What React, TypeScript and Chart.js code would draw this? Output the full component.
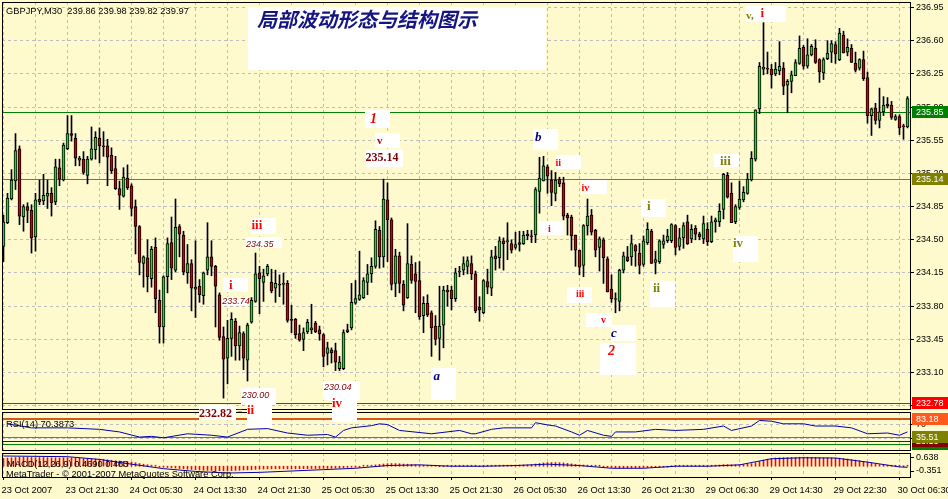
import React, { useEffect, useRef } from "react";
import { Chart, registerables } from "chart.js";
Chart.register(...registerables);

// ---------- price data (GBPJPY M30), one entry per bar ----------
const OPEN = [
  234.43, 234.68, 234.93, 235.12, 235.46, 234.74, 234.85, 234.81, 234.53, 234.93,
  234.91, 234.96, 234.99, 234.90, 235.26, 235.13, 235.46, 235.62, 235.57, 235.34,
  235.35, 235.18, 235.35, 235.45, 235.57, 235.49, 235.49, 235.39, 235.25, 235.04,
  234.96, 235.15, 235.07, 234.85, 234.64, 234.25, 234.31, 234.09, 234.42, 233.86,
  233.58, 234.11, 234.47, 234.18, 234.64, 234.55, 234.15, 234.25, 233.98, 234.01,
  233.91, 234.18, 234.32, 234.22, 233.92, 233.48, 233.25, 233.46, 233.64, 233.38,
  233.51, 233.23, 233.63, 233.85, 234.15, 234.05, 234.14, 234.05, 233.99, 234.03,
  234.03, 234.04, 233.66, 233.66, 233.51, 233.45, 233.53, 233.55, 233.62, 233.55,
  233.50, 233.30, 233.34, 233.33, 233.14, 233.14, 233.53, 233.57, 233.83, 233.87,
  233.89, 234.05, 234.14, 234.22, 234.60, 234.32, 234.92, 234.71, 234.04, 234.33,
  234.03, 233.89, 234.24, 234.14, 234.07, 233.70, 233.83, 233.73, 233.59, 233.46,
  233.60, 233.95, 233.97, 233.88, 234.16, 234.18, 234.22, 234.25, 234.14, 233.79,
  233.73, 234.06, 233.99, 234.33, 234.31, 234.49, 234.48, 234.46, 234.42, 234.47,
  234.46, 234.56, 234.54, 234.55, 235.01, 235.12, 235.27, 235.13, 234.99, 235.14,
  235.10, 234.76, 234.74, 234.55, 234.39, 234.23, 234.65, 234.76, 234.60, 234.42,
  234.50, 234.30, 233.98, 233.87, 233.85, 234.18, 234.32, 234.32, 234.44, 234.36,
  234.24, 234.47, 234.59, 234.26, 234.27, 234.45, 234.49, 234.49, 234.65, 234.43,
  234.52, 234.69, 234.51, 234.62, 234.56, 234.51, 234.61, 234.48, 234.69, 234.69,
  234.82, 235.18, 234.99, 234.69, 234.84, 234.92, 234.99, 235.13, 235.35, 235.88,
  236.30, 236.31, 236.30, 236.25, 236.28, 236.31, 236.13, 236.17, 236.23, 236.36,
  236.53, 236.33, 236.45, 236.52, 236.40, 236.26, 236.41, 236.48, 236.56, 236.40,
  236.66, 236.48, 236.52, 236.36, 236.31, 236.40, 236.21, 235.81, 235.89, 235.76,
  235.85, 235.93, 235.92, 235.77, 235.80, 235.70, 235.69,
];
const HIGH = [
  234.76, 234.99, 235.24, 235.62, 235.49, 234.87, 234.89, 234.87, 234.99, 235.13,
  235.19, 235.13, 235.05, 235.35, 235.35, 235.52, 235.81, 235.81, 235.62, 235.38,
  235.43, 235.38, 235.69, 235.64, 235.68, 235.64, 235.56, 235.47, 235.38, 235.12,
  235.26, 235.29, 235.09, 234.92, 234.65, 234.33, 234.50, 234.43, 234.52, 233.97,
  234.12, 234.52, 234.74, 234.93, 234.66, 234.59, 234.45, 234.29, 234.49, 234.08,
  234.16, 234.68, 234.49, 234.23, 233.94, 233.58, 233.65, 233.73, 233.67, 233.59,
  233.53, 233.62, 233.89, 234.36, 234.22, 234.19, 234.24, 234.19, 234.18, 234.13,
  234.15, 234.07, 233.81, 233.67, 233.60, 233.57, 233.66, 233.82, 233.64, 233.59,
  233.51, 233.42, 233.36, 233.41, 233.27, 233.55, 233.61, 234.04, 234.07, 234.38,
  234.10, 234.24, 234.31, 234.70, 234.64, 235.14, 235.10, 234.73, 234.40, 234.37,
  234.07, 234.67, 234.33, 234.26, 234.27, 233.90, 233.92, 233.75, 233.70, 234.01,
  234.01, 234.02, 234.01, 234.20, 234.22, 234.32, 234.32, 234.33, 234.17, 233.90,
  234.08, 234.19, 234.39, 234.43, 234.53, 234.52, 234.68, 234.50, 234.58, 234.59,
  234.59, 234.60, 234.60, 235.05, 235.37, 235.38, 235.29, 235.23, 235.21, 235.16,
  235.16, 234.78, 234.76, 234.55, 234.39, 234.66, 234.93, 234.82, 234.61, 234.53,
  234.52, 234.32, 234.13, 233.94, 234.19, 234.37, 234.43, 234.55, 234.45, 234.46,
  234.54, 234.68, 234.61, 234.38, 234.50, 234.55, 234.61, 234.67, 234.66, 234.62,
  234.68, 234.76, 234.66, 234.65, 234.58, 234.75, 234.68, 234.75, 234.73, 234.88,
  235.20, 235.21, 235.10, 234.87, 235.12, 235.06, 235.20, 235.43, 235.87, 236.37,
  236.79, 236.48, 236.35, 236.37, 236.59, 236.37, 236.19, 236.28, 236.40, 236.65,
  236.55, 236.62, 236.56, 236.61, 236.41, 236.42, 236.60, 236.60, 236.59, 236.73,
  236.70, 236.62, 236.56, 236.48, 236.41, 236.49, 236.27, 235.89, 235.94, 236.10,
  236.01, 236.00, 235.96, 235.82, 235.82, 235.72, 236.01,
];
const LOW = [
  234.27, 234.67, 234.92, 235.03, 234.66, 234.59, 234.68, 234.36, 234.38, 234.87,
  234.87, 234.83, 234.75, 234.87, 235.07, 235.12, 235.45, 235.54, 235.28, 235.28,
  235.19, 235.09, 235.34, 235.35, 235.31, 235.38, 235.07, 235.20, 235.03, 234.82,
  234.95, 235.03, 234.75, 234.35, 234.13, 234.00, 233.95, 234.00, 233.73, 233.41,
  233.41, 233.94, 234.08, 234.16, 234.32, 234.13, 234.04, 233.75, 233.68, 233.84,
  233.82, 234.13, 234.12, 233.58, 233.44, 232.83, 232.98, 233.27, 233.23, 233.23,
  233.13, 233.01, 233.62, 233.84, 233.72, 233.85, 234.12, 233.94, 233.84, 233.90,
  233.82, 233.63, 233.52, 233.46, 233.43, 233.33, 233.51, 233.51, 233.52, 233.44,
  233.16, 233.18, 233.20, 233.12, 233.12, 233.13, 233.52, 233.55, 233.82, 233.86,
  233.88, 233.92, 234.05, 234.20, 234.20, 234.21, 234.27, 233.97, 233.90, 233.94,
  233.75, 233.88, 234.04, 233.73, 233.66, 233.52, 233.69, 233.27, 233.39, 233.23,
  233.36, 233.80, 233.76, 233.85, 234.11, 234.13, 234.14, 234.08, 233.73, 233.64,
  233.72, 233.93, 233.91, 234.18, 234.20, 234.18, 234.29, 234.36, 234.40, 234.38,
  234.45, 234.50, 234.47, 234.47, 234.78, 235.12, 234.99, 234.86, 234.91, 235.06,
  234.71, 234.55, 234.39, 234.22, 234.13, 234.11, 234.55, 234.55, 234.32, 234.17,
  234.04, 233.95, 233.84, 233.73, 233.75, 234.15, 234.27, 234.23, 234.22, 234.14,
  234.22, 234.45, 234.25, 234.14, 234.25, 234.41, 234.47, 234.47, 234.34, 234.39,
  234.41, 234.45, 234.47, 234.50, 234.50, 234.46, 234.44, 234.47, 234.58, 234.64,
  234.72, 234.94, 234.68, 234.67, 234.82, 234.90, 234.98, 235.12, 235.33, 235.83,
  236.24, 236.25, 236.10, 236.23, 236.24, 236.03, 235.84, 236.05, 236.23, 236.35,
  236.30, 236.31, 236.44, 236.36, 236.16, 236.19, 236.40, 236.37, 236.36, 236.39,
  236.47, 236.44, 236.37, 236.27, 236.29, 236.18, 235.73, 235.60, 235.72, 235.68,
  235.81, 235.89, 235.77, 235.76, 235.61, 235.56, 235.68,
];
const CLOSE = [
  234.69, 234.94, 235.13, 235.44, 234.75, 234.85, 234.81, 234.52, 234.92, 234.90,
  234.97, 234.99, 234.89, 235.27, 235.14, 235.50, 235.62, 235.60, 235.36, 235.36,
  235.21, 235.35, 235.46, 235.58, 235.49, 235.48, 235.37, 235.23, 235.04, 234.97,
  235.16, 235.05, 234.83, 234.64, 234.26, 234.32, 234.11, 234.40, 233.88, 233.58,
  234.11, 234.46, 234.20, 234.63, 234.56, 234.16, 234.25, 233.99, 234.00, 233.92,
  234.15, 234.32, 234.22, 234.01, 233.47, 233.24, 233.46, 233.66, 233.38, 233.52,
  233.25, 233.60, 233.86, 234.14, 234.09, 234.12, 234.22, 233.96, 234.04, 234.02,
  234.04, 233.65, 233.65, 233.50, 233.44, 233.52, 233.63, 233.57, 233.53, 233.51,
  233.27, 233.36, 233.31, 233.21, 233.21, 233.52, 233.55, 233.84, 233.88, 233.92,
  234.07, 234.14, 234.22, 234.61, 234.32, 234.93, 234.71, 234.03, 234.33, 234.04,
  233.81, 234.25, 234.07, 234.06, 233.69, 233.83, 233.71, 233.57, 233.45, 233.59,
  233.97, 233.97, 233.88, 234.15, 234.17, 234.25, 234.28, 234.14, 233.75, 233.76,
  234.07, 234.00, 234.32, 234.30, 234.49, 234.46, 234.48, 234.39, 234.45, 234.45,
  234.55, 234.54, 234.53, 235.03, 235.15, 235.28, 235.17, 235.00, 235.13, 235.09,
  234.75, 234.73, 234.54, 234.39, 234.21, 234.65, 234.75, 234.58, 234.39, 234.51,
  234.31, 233.95, 233.88, 233.87, 234.18, 234.33, 234.28, 234.46, 234.38, 234.23,
  234.49, 234.61, 234.25, 234.29, 234.49, 234.49, 234.54, 234.66, 234.42, 234.52,
  234.65, 234.46, 234.61, 234.56, 234.53, 234.67, 234.48, 234.69, 234.71, 234.80,
  235.19, 234.95, 234.68, 234.85, 234.93, 235.00, 235.14, 235.36, 235.87, 236.33,
  236.32, 236.30, 236.24, 236.30, 236.33, 236.12, 236.17, 236.24, 236.37, 236.52,
  236.33, 236.45, 236.54, 236.37, 236.27, 236.40, 236.47, 236.57, 236.46, 236.68,
  236.47, 236.53, 236.37, 236.29, 236.40, 236.20, 235.81, 235.88, 235.76, 235.85,
  235.92, 235.91, 235.79, 235.80, 235.68, 235.69, 235.99,
];

// ---------- axes ----------
const PRICE_TICKS = [232.75, 233.1, 233.45, 233.8, 234.15, 234.5, 234.85, 235.2, 235.55, 235.9, 236.25, 236.6, 236.95];
const GRID_BARS = [0, 8, 16, 24, 32, 40, 48, 56, 64, 72, 80, 88, 96, 104, 112, 120, 128, 136, 144, 152, 160, 168, 176, 184, 192, 200, 208, 216, 224];
const TIME_LABELS = [
  "23 Oct 2007", "23 Oct 21:30", "24 Oct 05:30", "24 Oct 13:30", "24 Oct 21:30",
  "25 Oct 05:30", "25 Oct 13:30", "25 Oct 21:30", "26 Oct 05:30", "26 Oct 13:30",
  "26 Oct 21:30", "29 Oct 06:30", "29 Oct 14:30", "29 Oct 22:30", "30 Oct 06:30",
];
const PRICE_LINES = [235.85, 235.14, 232.78];

// ---------- RSI(14) ----------
const RSI_BARS = [1, 7, 16, 24, 29, 34, 37, 40, 46, 52, 56, 61, 66, 71, 76, 81, 83, 85, 87, 92, 94, 96, 99, 107, 114, 117, 118, 122, 125, 132, 133, 136, 138, 142, 144, 146, 150, 152, 153, 158, 163, 168, 175, 180, 182, 187, 189, 192, 195, 200, 203, 208, 212, 216, 221, 224, 226];
const RSI_VALUES = [71, 60, 60, 56, 49, 35, 37, 33, 44, 40, 35, 56, 58, 46, 40, 42, 35, 53, 60, 66, 71, 69, 53, 44, 53, 44, 44, 56, 60, 60, 74, 68, 65, 49, 40, 53, 40, 37, 49, 49, 56, 53, 56, 65, 53, 65, 80, 78, 71, 71, 65, 65, 60, 44, 46, 40, 49];
const RSI_LEVELS = [83.18, 35.51, 23.13, 17.0];
const RSI_TICKS = [30, 70];

// ---------- MACD(12,26,9): main (histogram, one per bar) and signal ----------
const MACD_MAIN = [
  0.58, 0.60, 0.62, 0.64, 0.66, 0.66, 0.65, 0.64, 0.63, 0.64,
  0.64, 0.63, 0.62, 0.62, 0.61, 0.62, 0.63, 0.62, 0.60, 0.58,
  0.56, 0.55, 0.54, 0.53, 0.52, 0.50, 0.47, 0.44, 0.41, 0.38,
  0.36, 0.33, 0.30, 0.26, 0.20, 0.15, 0.11, 0.08, 0.03, -0.02,
  -0.06, -0.09, -0.12, -0.14, -0.17, -0.19, -0.22, -0.24, -0.26, -0.28,
  -0.30, -0.31, -0.32, -0.33, -0.33, -0.34, -0.33, -0.32, -0.31, -0.30,
  -0.28, -0.27, -0.25, -0.23, -0.22, -0.21, -0.20, -0.20, -0.19, -0.19,
  -0.19, -0.20, -0.20, -0.19, -0.19, -0.18, -0.18, -0.17, -0.17, -0.16,
  -0.16, -0.16, -0.15, -0.14, -0.13, -0.11, -0.09, -0.07, -0.05, -0.02,
  0.01, 0.04, 0.07, 0.10, 0.13, 0.16, 0.19, 0.20, 0.19, 0.18,
  0.16, 0.15, 0.13, 0.11, 0.09, 0.07, 0.05, 0.03, 0.01, 0.00,
  0.00, 0.01, 0.01, 0.02, 0.01, 0.01, 0.01, 0.02, 0.01, 0.00,
  0.02, 0.03, 0.05, 0.06, 0.08, 0.08, 0.08, 0.08, 0.09, 0.09,
  0.10, 0.10, 0.12, 0.16, 0.20, 0.24, 0.26, 0.27, 0.27, 0.26,
  0.24, 0.21, 0.17, 0.13, 0.10, 0.09, 0.08, 0.07, 0.05, 0.02,
  -0.02, -0.06, -0.10, -0.13, -0.14, -0.14, -0.13, -0.12, -0.12, -0.11,
  -0.10, -0.09, -0.08, -0.06, -0.04, -0.02, -0.01, 0.00, 0.01, 0.01,
  0.02, 0.02, 0.02, 0.03, 0.03, 0.04, 0.05, 0.06, 0.08, 0.09,
  0.12, 0.12, 0.11, 0.11, 0.12, 0.13, 0.15, 0.19, 0.26, 0.36,
  0.45, 0.52, 0.57, 0.60, 0.62, 0.63, 0.64, 0.64, 0.65, 0.66,
  0.66, 0.66, 0.65, 0.65, 0.63, 0.62, 0.62, 0.61, 0.60, 0.59,
  0.56, 0.53, 0.49, 0.45, 0.41, 0.36, 0.30, 0.23, 0.17, 0.12,
  0.09, 0.07, 0.05, 0.03, 0.01, 0.00, 0.01,
];
const SIGNAL_BARS = [0, 16, 24, 32, 40, 48, 56, 64, 72, 80, 88, 96, 104, 112, 120, 128, 136, 144, 152, 160, 168, 176, 184, 192, 200, 208, 216, 224, 226];
const MACD_SIGNAL = [0.75, 0.7, 0.5, 0.15, -0.18, -0.38, -0.5, -0.45, -0.35, -0.25, -0.15, 0.05, 0.1, 0.0, 0.0, 0.05, 0.15, 0.05, -0.15, -0.15, 0.0, 0.0, 0.1, 0.55, 0.62, 0.6, 0.3, -0.05, -0.08];
const MACD_TICKS = [0.638, -0.351];

// ---------- look ----------
const BG = "#FFFACD";
const GRID_COLOR = "#BEBEBE";
const UP = "#2BD12B";
const DOWN = "#D40000";
const SANS = '"Liberation Sans", Arial, sans-serif';
const SERIF = '"Liberation Serif", "Times New Roman", serif';
const CJK = '"Noto Sans CJK SC", "Noto Sans CJK JP", sans-serif';
const DASH = [3, 3];
const AXIS_W = 38;
const XMIN = -0.375;
const XMAX = 226.625;
const RSI_TOP = 410;
const MACD_TOP = 451;

const WHITE_BOXES = [
  [248, 7, 298, 63],
  [365, 110, 25, 18], [375, 133, 25, 15], [366, 150, 37, 17],
  [533, 129, 25, 21], [556, 155, 25, 14], [581, 180, 26, 14], [539, 221, 25, 14],
  [567, 287, 25, 16], [586, 313, 26, 14], [611, 325, 25, 16], [600, 343, 36, 32],
  [431, 368, 25, 32], [323, 381, 37, 19], [332, 395, 25, 27], [199, 405, 37, 15],
  [241, 388, 35, 17], [247, 405, 25, 23], [223, 278, 25, 14], [222, 297, 26, 8],
  [251, 218, 25, 16], [246, 237, 36, 11], [746, 6, 40, 16], [714, 154, 25, 13],
  [733, 236, 25, 26], [641, 199, 25, 18], [650, 281, 25, 26],
];
const RED = "#FF0000", MAROON = "#800000", NAVY = "#000080", OLIVE = "#808000";
const NOTES = [
  { t: "1", x: 370, y: 122.5, f: `italic bold 14px ${SERIF}`, c: RED },
  { t: "v", x: 377, y: 143.5, f: `bold 11px ${SERIF}`, c: "#B00000" },
  { t: "235.14", x: 365.5, y: 161, f: `bold 12px ${SERIF}`, c: MAROON },
  { t: "b", x: 535, y: 140.7, f: `italic bold 13px ${SERIF}`, c: NAVY },
  { t: "ii", x: 555.5, y: 165.7, f: `bold 10px ${SERIF}`, c: RED },
  { t: "iv", x: 581.5, y: 190.7, f: `bold 10px ${SERIF}`, c: RED },
  { t: "i", x: 548, y: 232, f: `bold 10px ${SERIF}`, c: RED },
  { t: "iii", x: 576, y: 297.3, f: `bold 10px ${SERIF}`, c: RED },
  { t: "v", x: 601, y: 323.3, f: `bold 10px ${SERIF}`, c: RED },
  { t: "c", x: 611, y: 337.3, f: `italic bold 13px ${SERIF}`, c: NAVY },
  { t: "2", x: 608, y: 355, f: `italic bold 14px ${SERIF}`, c: RED },
  { t: "a", x: 433.5, y: 380, f: `italic bold 13px ${SERIF}`, c: NAVY },
  { t: "230.04", x: 324, y: 390, f: `italic 9px ${SANS}`, c: MAROON },
  { t: "iv", x: 332, y: 406.7, f: `bold 13px ${SERIF}`, c: RED },
  { t: "232.82", x: 199, y: 416.7, f: `bold 12px ${SERIF}`, c: MAROON },
  { t: "=", x: 237, y: 413, f: `9px ${SANS}`, c: "#606060" },
  { t: "ii", x: 247, y: 414.3, f: `bold 13px ${SERIF}`, c: RED },
  { t: "230.00", x: 241.7, y: 398.3, f: `italic 9px ${SANS}`, c: MAROON },
  { t: "i", x: 229, y: 289.3, f: `bold 13px ${SERIF}`, c: RED },
  { t: "233.74", x: 222.3, y: 304, f: `italic 9px ${SANS}`, c: MAROON },
  { t: "iii", x: 251.5, y: 229.3, f: `bold 13px ${SERIF}`, c: RED },
  { t: "234.35", x: 246, y: 246.7, f: `italic 9px ${SANS}`, c: MAROON },
  { t: "v,", x: 746, y: 19, f: `bold 11px ${SERIF}`, c: OLIVE },
  { t: "i", x: 760.5, y: 17.3, f: `bold 13px ${SERIF}`, c: RED },
  { t: "iii", x: 720, y: 165, f: `bold 13px ${SERIF}`, c: OLIVE },
  { t: "iv", x: 733, y: 247.3, f: `bold 13px ${SERIF}`, c: OLIVE },
  { t: "i", x: 647, y: 210, f: `bold 13px ${SERIF}`, c: OLIVE },
  { t: "ii", x: 653, y: 292.3, f: `bold 13px ${SERIF}`, c: OLIVE },
];

function drawText(ctx, s, x, y, font, color) {
  ctx.save();
  ctx.font = font;
  ctx.fillStyle = color;
  ctx.textAlign = "left";
  ctx.textBaseline = "alphabetic";
  ctx.fillText(s, x, y);
  ctx.restore();
}
function drawFrame(chart) {
  const { ctx, chartArea: a } = chart;
  ctx.save();
  ctx.strokeStyle = "#000";
  ctx.lineWidth = 1;
  ctx.strokeRect(a.left + 0.5, a.top + 0.5, a.right - a.left, a.bottom - a.top);
  ctx.restore();
}
function hLine(chart, scaleId, v, color, w) {
  const { ctx, chartArea: a } = chart;
  const s = chart.scales[scaleId];
  const py = Math.round(s.getPixelForValue(v)) + (w % 2 ? 0.5 : 0);
  ctx.save();
  ctx.strokeStyle = color;
  ctx.lineWidth = w;
  ctx.beginPath();
  ctx.moveTo(a.left, py);
  ctx.lineTo(a.right, py);
  ctx.stroke();
  ctx.restore();
}
function axisBox(chart, scaleId, v, text, bg) {
  const { ctx, chartArea: a } = chart;
  const s = chart.scales[scaleId];
  const py = Math.round(s.getPixelForValue(v));
  ctx.save();
  ctx.fillStyle = bg;
  ctx.fillRect(a.right + 2, py - 6, 948 - a.right - 2, 12);
  ctx.font = `9px ${SANS}`;
  ctx.fillStyle = "#FFFFFF";
  ctx.textBaseline = "middle";
  ctx.fillText(text, a.right + 6, py + 0.5);
  ctx.restore();
}
// keep the plot area exactly where the layout padding puts it
function noPad(s) {
  s.paddingTop = 0;
  s.paddingBottom = 0;
  s.paddingLeft = 0;
  s.paddingRight = 0;
}

function xScale(showLabels) {
  return {
    type: "linear",
    min: XMIN,
    max: XMAX,
    offset: false,
    afterBuildTicks: (s) => {
      s.ticks = GRID_BARS.map((v) => ({ value: v }));
    },
    ticks: showLabels
      ? {
          display: true,
          autoSkip: false,
          maxRotation: 0,
          minRotation: 0,
          align: "start",
          labelOffset: -2,
          padding: 5,
          color: "#000",
          font: { family: SANS, size: 9.3 },
          callback: (v) => (v % 16 === 0 ? TIME_LABELS[v / 16] : ""),
        }
      : { display: false },
    grid: {
      color: GRID_COLOR,
      lineWidth: 1,
      drawTicks: showLabels,
      tickLength: 3,
      tickColor: (c) => (c.index % 2 === 0 ? "#000" : "rgba(0,0,0,0)"),
      offset: false,
    },
    border: { display: false, dash: DASH },
    afterFit: (s) => {
      s.height = showLabels ? 22 : 0;
      noPad(s);
    },
  };
}
function yAfterFit(s) {
  s.width = AXIS_W;
  noPad(s);
}

export default function App() {
  const mainRef = useRef(null);
  const rsiRef = useRef(null);
  const macdRef = useRef(null);

  useEffect(() => {
    const idx = OPEN.map((_, i) => i);
    const bodies = idx.map((i) => ({ x: i, y: [OPEN[i], CLOSE[i]] }));
    const wicks = idx.map((i) => ({ x: i, y: [LOW[i], HIGH[i]] }));
    const colors = idx.map((i) => (CLOSE[i] >= OPEN[i] ? UP : DOWN));

    const mainPlugin = {
      id: "mt4main",
      beforeDatasetsDraw(chart) {
        hLine(chart, "y", PRICE_LINES[0], "#008000", 1);
        hLine(chart, "y", PRICE_LINES[1], "#808000", 1);
        hLine(chart, "y", PRICE_LINES[2], "#FF0000", 1);
      },
      afterDraw(chart) {
        const { ctx } = chart;
        drawFrame(chart);
        axisBox(chart, "y", PRICE_LINES[0], PRICE_LINES[0].toFixed(2), "#008000");
        axisBox(chart, "y", PRICE_LINES[1], PRICE_LINES[1].toFixed(2), "#808000");
        axisBox(chart, "y", PRICE_LINES[2], PRICE_LINES[2].toFixed(2), "#FF0000");
        drawText(ctx, "GBPJPY,M30  239.86 239.98 239.82 239.97", 6, 14, `9.3px ${SANS}`, "#000");
        ctx.save();
        ctx.fillStyle = "#FFFFFF";
        WHITE_BOXES.forEach((b) => ctx.fillRect(b[0], b[1], b[2], b[3]));
        ctx.restore();
        drawText(ctx, "局部波动形态与结构图示", 257, 27, `italic bold 20px ${CJK}`, "#141482");
        NOTES.forEach((n) => drawText(ctx, n.t, n.x, n.y, n.f, n.c));
      },
    };

    const main = new Chart(mainRef.current, {
      type: "bar",
      data: {
        datasets: [
          {
            data: bodies,
            backgroundColor: colors,
            borderColor: "#000",
            borderWidth: 1,
            borderSkipped: false,
            barThickness: 3,
            minBarLength: 1,
            grouped: false,
            order: 0,
          },
          {
            data: wicks,
            backgroundColor: "#000",
            borderWidth: 0,
            barThickness: 1,
            grouped: false,
            order: 1,
          },
        ],
      },
      options: {
        animation: false,
        responsive: false,
        events: [],
        layout: { padding: { left: 2, top: 2, right: 0, bottom: 90 } },
        plugins: { legend: { display: false }, tooltip: { enabled: false } },
        scales: {
          x: xScale(false),
          y: {
            position: "right",
            min: 232.715,
            max: 237.008,
            afterBuildTicks: (s) => {
              s.ticks = PRICE_TICKS.map((v) => ({ value: v }));
            },
            ticks: {
              color: "#000",
              padding: 2,
              font: { family: SANS, size: 9 },
              callback: (v) => Number(v).toFixed(2),
            },
            grid: { color: GRID_COLOR, tickColor: "#000", tickLength: 4 },
            border: { display: false, dash: DASH },
            afterFit: yAfterFit,
          },
        },
      },
      plugins: [mainPlugin],
    });

    const rsiPlugin = {
      id: "rsi",
      beforeDatasetsDraw(chart) {
        hLine(chart, "y", RSI_LEVELS[3], "#008000", 1);
        hLine(chart, "y", RSI_LEVELS[2], "#800000", 1);
        hLine(chart, "y", RSI_LEVELS[1], "#808000", 1);
        hLine(chart, "y", RSI_LEVELS[0], "#D8561A", 2);
      },
      afterDraw(chart) {
        drawFrame(chart);
        axisBox(chart, "y", RSI_LEVELS[3], "17.00", "#008000");
        axisBox(chart, "y", RSI_LEVELS[2], RSI_LEVELS[2].toFixed(2), "#800000");
        axisBox(chart, "y", RSI_LEVELS[1], RSI_LEVELS[1].toFixed(2), "#808000");
        axisBox(chart, "y", RSI_LEVELS[0], RSI_LEVELS[0].toFixed(2), "#FF5A1E");
        drawText(chart.ctx, "RSI(14) 70.3873", 6, 427 - RSI_TOP, `9.3px ${SANS}`, "#000");
      },
    };
    const rsi = new Chart(rsiRef.current, {
      type: "line",
      data: {
        datasets: [
          {
            data: RSI_BARS.map((b, i) => ({ x: b, y: RSI_VALUES[i] })),
            borderColor: "#0000B0",
            borderWidth: 1,
            pointRadius: 0,
            tension: 0,
          },
        ],
      },
      options: {
        animation: false,
        responsive: false,
        events: [],
        layout: { padding: { left: 2, top: 2, right: 0, bottom: 2 } },
        plugins: { legend: { display: false }, tooltip: { enabled: false } },
        scales: {
          x: xScale(false),
          y: {
            position: "right",
            min: 0,
            max: 103,
            afterBuildTicks: (s) => {
              s.ticks = RSI_TICKS.map((v) => ({ value: v }));
            },
            ticks: { color: "#000", padding: 2, font: { family: SANS, size: 9 } },
            grid: { color: GRID_COLOR, tickColor: "#000", tickLength: 4 },
            border: { display: false, dash: DASH },
            afterFit: yAfterFit,
          },
        },
      },
      plugins: [rsiPlugin],
    });

    const macdPlugin = {
      id: "macd",
      afterDraw(chart) {
        drawFrame(chart);
        drawText(chart.ctx, "MACD(12,26,9) 0.4690 0.463", 7, 467 - MACD_TOP, `9.3px ${SANS}`, "#000");
        drawText(chart.ctx, "MetaTrader - © 2001-2007 MetaQuotes Software Corp.", 6, 477 - MACD_TOP, `9.3px ${SANS}`, "#000");
      },
    };
    const macd = new Chart(macdRef.current, {
      type: "bar",
      data: {
        datasets: [
          {
            type: "line",
            data: SIGNAL_BARS.map((b, i) => ({ x: b, y: MACD_SIGNAL[i] })),
            borderColor: "#0000B0",
            borderWidth: 1,
            pointRadius: 0,
            order: 0,
          },
          {
            data: MACD_MAIN.map((v, i) => ({ x: i, y: v })),
            backgroundColor: "#FF0000",
            barThickness: 1,
            minBarLength: 1,
            grouped: false,
            order: 1,
          },
        ],
      },
      options: {
        animation: false,
        responsive: false,
        events: [],
        layout: { padding: { left: 2, top: 2, right: 0, bottom: 0 } },
        plugins: { legend: { display: false }, tooltip: { enabled: false } },
        scales: {
          x: xScale(true),
          y: {
            position: "right",
            min: -0.79,
            max: 0.97,
            afterBuildTicks: (s) => {
              s.ticks = MACD_TICKS.map((v) => ({ value: v }));
            },
            ticks: { color: "#000", padding: 2, font: { family: SANS, size: 9 }, callback: (v) => String(v) },
            grid: { color: "rgba(0,0,0,0)", tickColor: "#000", tickLength: 4 },
            border: { display: false },
            afterFit: yAfterFit,
          },
        },
      },
      plugins: [macdPlugin],
    });

    return () => {
      main.destroy();
      rsi.destroy();
      macd.destroy();
    };
  }, []);

  const abs = (top, h) => ({ position: "absolute", left: 0, top, width: 948, height: h });
  return (
    <div style={{ position: "fixed", left: 0, top: 0, width: 948, height: 499, background: BG, overflow: "hidden" }}>
      <canvas ref={rsiRef} width={948} height={42} style={abs(RSI_TOP, 42)} />
      <canvas ref={macdRef} width={948} height={48} style={abs(MACD_TOP, 48)} />
      <canvas ref={mainRef} width={948} height={499} style={abs(0, 499)} />
    </div>
  );
}
